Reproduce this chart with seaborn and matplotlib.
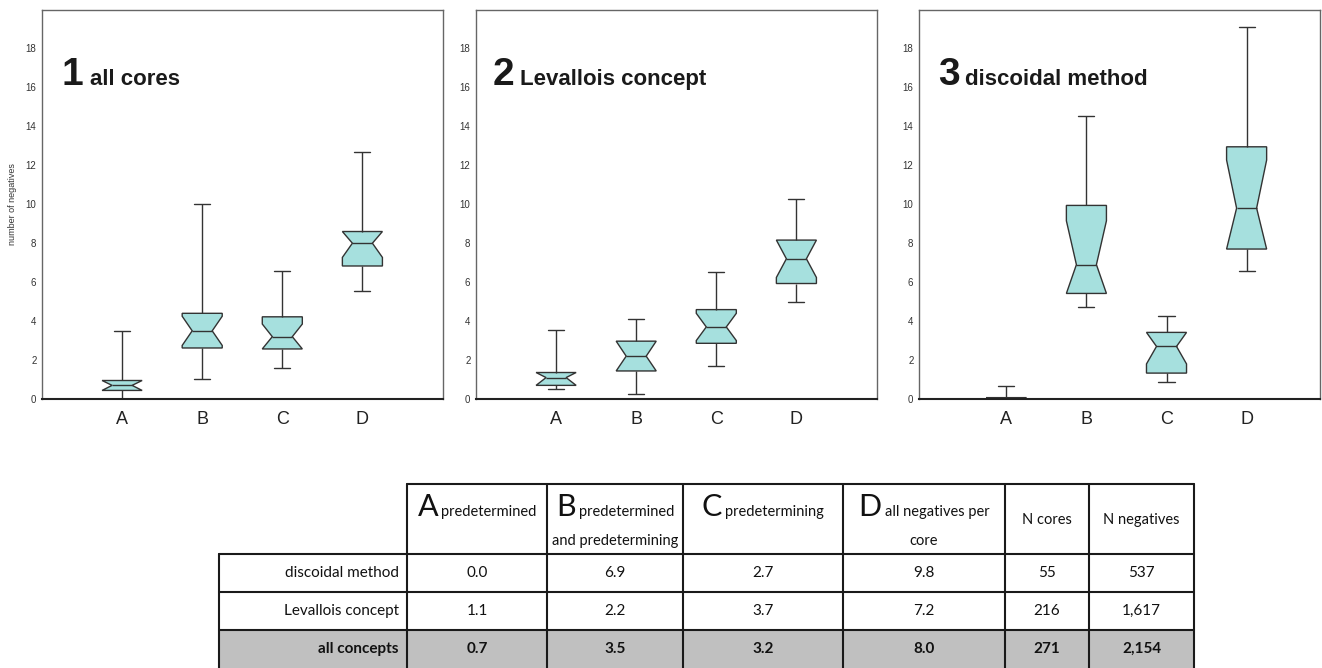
import numpy as np
import pandas as pd
import matplotlib
matplotlib.use("Agg")
import matplotlib.pyplot as plt
from matplotlib.path import Path
from matplotlib.patches import Rectangle
import seaborn as sns

# ---------------------------------------------------------------- data
categories = ["A", "B", "C", "D"]

# all cores: lower whisker, Q1, median, Q3, upper whisker, notch half-width
all_whislo = [0.0, 1.03, 1.61, 5.54]
all_q1 = [0.44, 2.62, 2.57, 6.83]
all_med = [0.7, 3.5, 3.2, 8.0]
all_q3 = [0.95, 4.40, 4.22, 8.60]
all_whishi = [3.49, 10.03, 6.55, 12.66]
all_notch = [0.30, 0.75, 0.65, 0.73]

# Levallois concept
lev_whislo = [0.51, 0.25, 1.70, 4.96]
lev_q1 = [0.70, 1.44, 2.86, 5.93]
lev_med = [1.1, 2.2, 3.7, 7.2]
lev_q3 = [1.36, 2.97, 4.59, 8.16]
lev_whishi = [3.52, 4.13, 6.54, 10.25]
lev_notch = [0.45, 0.80, 0.70, 0.96]

# discoidal method
disc_whislo = [0.0, 4.70, 0.89, 6.59]
disc_q1 = [0.0, 5.42, 1.33, 7.70]
disc_med = [0.0, 6.9, 2.7, 9.8]
disc_q3 = [0.07, 9.94, 3.42, 12.95]
disc_whishi = [0.68, 14.54, 4.24, 19.10]
disc_notch = [0.10, 2.25, 0.90, 2.47]

panel_numbers = ["1", "2", "3"]
panel_names = ["all cores", "Levallois concept", "discoidal method"]
y_ticks = [0, 2, 4, 6, 8, 10, 12, 14, 16, 18]

# summary table
table_rows = ["discoidal method", "Levallois concept", "all concepts"]
header_letters = ["A", "B", "C", "D"]
header_words = ["predetermined", "predetermined\nand predetermining",
                "predetermining", "all negatives per\ncore"]
header_counts = ["N cores", "N negatives"]
n_cores = [55, 216, 271]
n_negatives = [537, 1617, 2154]

# ---------------------------------------------------------------- style
sns.set_theme(style="white")
plt.rcParams["font.family"] = ["Liberation Sans", "DejaVu Sans"]

BOX_FILL = "#a6e0de"
LINE = "#333333"
TABLE_FONT = ["Lato", "DejaVu Sans"]

fig = plt.figure(figsize=(13.22, 6.68), dpi=100)
W, H = 1322, 668

# full-figure axes in pixel units for the table
tax = fig.add_axes([0, 0, 1, 1])
tax.set_xlim(0, W)
tax.set_ylim(H, 0)
tax.axis("off")
tax.patch.set_visible(False)

panels = [
    (all_whislo, all_q1, all_med, all_q3, all_whishi, all_notch),
    (lev_whislo, lev_q1, lev_med, lev_q3, lev_whishi, lev_notch),
    (disc_whislo, disc_q1, disc_med, disc_q3, disc_whishi, disc_notch),
]
panel_left_px = [42, 476, 919]
panel_xlim = [(-1.0, 4.0), (-1.0, 4.0), (-1.09, 3.91)]
panel_top_px, panel_bottom_px, panel_width_px = 9.5, 399, 400.5
title_num_x = [0.0475, 0.0425, 0.0475]
title_word_x = [0.12, 0.1105, 0.1155]

for k, (wlo, q1, med, q3, whi, notch) in enumerate(panels):
    ax = fig.add_axes([panel_left_px[k] / W, 1 - panel_bottom_px / H,
                       panel_width_px / W, (panel_bottom_px - panel_top_px) / H])
    # five-number summary of each box as its sample
    records = []
    for i, cat in enumerate(categories):
        for v in (wlo[i], q1[i], med[i], q3[i], whi[i]):
            records.append({"category": cat, "value": v})
    df = pd.DataFrame(records)
    sns.boxplot(data=df, x="category", y="value", order=categories,
                whis=(0, 100), notch=True, width=0.5, color=BOX_FILL,
                saturation=1, linecolor=LINE, linewidth=1.0,
                capwidths=0.2, ax=ax)
    # notch ends, kept inside the box
    for patch, m, lo, hi, h in zip(ax.patches, med, q1, q3, notch):
        p = patch.get_path()
        v = p.vertices.copy()
        v[[2, 9], 1] = max(m - h, lo)
        v[[4, 7], 1] = min(m + h, hi)
        patch.set_path(Path(v, p.codes))

    ax.set_xlim(*panel_xlim[k])
    ax.set_ylim(0, 20)
    ax.set_yticks(y_ticks)
    ax.set_yticklabels([str(t) for t in y_ticks])
    ax.tick_params(axis="y", length=0, pad=4, labelsize=7, labelcolor="#333333")
    ax.tick_params(axis="x", length=0, pad=9, labelsize=13, labelcolor="#222222")
    ax.set_xlabel("")
    if k == 0:
        ax.set_ylabel("number of negatives", fontsize=6.5, color="#333333")
        ax.yaxis.set_label_coords(-0.062, 0.5)
    else:
        ax.set_ylabel("")
    for side in ("top", "right", "left"):
        ax.spines[side].set_color("#666666")
        ax.spines[side].set_linewidth(1.0)
        ax.spines[side].set_visible(True)
    ax.spines["bottom"].set_color("#222222")
    ax.spines["bottom"].set_linewidth(1.5)
    ax.spines["bottom"].set_visible(True)

    ax.text(title_num_x[k], 0.807, panel_numbers[k], transform=ax.transAxes,
            fontsize=28, fontweight="bold", color="#1a1a1a",
            ha="left", va="baseline")
    ax.text(title_word_x[k], 0.807, panel_names[k], transform=ax.transAxes,
            fontsize=16, fontweight="bold", color="#1a1a1a",
            ha="left", va="baseline")

# ---------------------------------------------------------------- table
col_edges = [219, 407, 547, 683, 843, 1005, 1089, 1194]
row_edges = [484, 554, 592, 630, 672]
TL = "#1a1a1a"
TLW = 1.5

# shaded totals row
tax.add_patch(Rectangle((col_edges[0], row_edges[3]), col_edges[-1] - col_edges[0],
                        row_edges[4] - row_edges[3], facecolor="#c0c0c0",
                        edgecolor="none", zorder=0))
# horizontal rules
tax.plot([col_edges[1], col_edges[-1]], [row_edges[0]] * 2, color=TL, lw=TLW)
for y in row_edges[1:4]:
    tax.plot([col_edges[0], col_edges[-1]], [y, y], color=TL, lw=TLW)
# vertical rules
tax.plot([col_edges[0]] * 2, [row_edges[1], row_edges[4]], color=TL, lw=TLW)
for x in col_edges[1:]:
    tax.plot([x, x], [row_edges[0], row_edges[4]], color=TL, lw=TLW)

fig.canvas.draw()
renderer = fig.canvas.get_renderer()

# header: big letter followed by a short description
line1_y, line2_y = 516, 545
for j, (letter, words) in enumerate(zip(header_letters, header_words)):
    cx = (col_edges[j + 1] + col_edges[j + 2]) / 2
    lines = words.split("\n")
    t_big = tax.text(0, line1_y, letter, fontsize=22, family=TABLE_FONT,
                     color="#111111", ha="left", va="baseline")
    t_small = tax.text(0, line1_y, lines[0], fontsize=10.5, family=TABLE_FONT,
                       color="#111111", ha="left", va="baseline")
    w_big = t_big.get_window_extent(renderer).width
    w_small = t_small.get_window_extent(renderer).width
    gap = 3
    x0 = cx - (w_big + gap + w_small) / 2
    t_big.set_x(x0)
    t_small.set_x(x0 + w_big + gap)
    if len(lines) > 1:
        tax.text(cx, line2_y, lines[1], fontsize=10.5, family=TABLE_FONT,
                 color="#111111", ha="center", va="baseline")

for j, label in enumerate(header_counts):
    cx = (col_edges[5 + j] + col_edges[6 + j]) / 2
    tax.text(cx, 520, label, fontsize=10.5, family=TABLE_FONT, color="#111111",
             ha="center", va="center")

# body
row_meds = [disc_med, lev_med, all_med]
for r, name in enumerate(table_rows):
    cy = (row_edges[r + 1] + row_edges[r + 2]) / 2 if r < 2 else (row_edges[3] + 668) / 2
    weight = "bold" if r == 2 else "normal"
    tax.text(col_edges[1] - 8, cy, name, fontsize=11, family=TABLE_FONT,
             fontweight=weight, color="#111111", ha="right", va="center")
    cells = [f"{v:.1f}" for v in row_meds[r]] + [f"{n_cores[r]:,}", f"{n_negatives[r]:,}"]
    for j, txt in enumerate(cells):
        cx = (col_edges[j + 1] + col_edges[j + 2]) / 2
        tax.text(cx, cy, txt, fontsize=11, family=TABLE_FONT, fontweight=weight,
                 color="#111111", ha="center", va="center")

fig.savefig("out.png", dpi=100)
